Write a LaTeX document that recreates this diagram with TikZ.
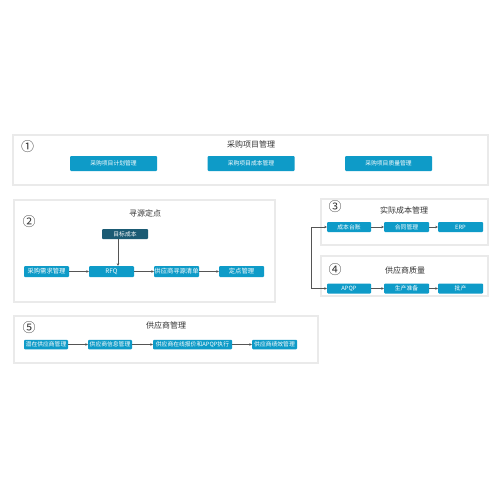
\documentclass[tikz,border=0pt]{standalone}
\usepackage{fontspec}
\setmainfont{Noto Sans CJK SC}
\newfontfamily\cjk{Noto Sans CJK SC}
\usetikzlibrary{arrows.meta}
\definecolor{boxblue}{HTML}{0E9BC8}
\definecolor{boxdark}{HTML}{1B5B74}
\definecolor{framegray}{HTML}{EAEAEA}
\definecolor{linegray}{HTML}{555555}
\begin{document}
\begin{tikzpicture}[x=1pt,y=-1pt,
  frame/.style={draw=framegray,line width=1.3pt,fill=white},
  bluebox/.style={fill=boxblue,draw=none,rounded corners=1pt,text=white,font=\cjk\fontsize{5.8}{6}\selectfont,inner sep=0pt,anchor=center},
  darkbox/.style={bluebox,fill=boxdark},
  ttl/.style={font=\cjk\fontsize{8}{9}\selectfont,text=black!80,inner sep=0pt},
  num/.style={font=\cjk\fontsize{13}{14}\selectfont,text=black!80,inner sep=0pt},
  conn/.style={draw=linegray,line width=0.5pt,-{Stealth[length=2.5pt,width=2.5pt]}},
  plain/.style={draw=linegray,line width=0.5pt}]
\useasboundingbox (0,0) rectangle (500,500);
% frames
\draw[frame] (13,135) rectangle (488,185);
\draw[frame] (14,200) rectangle (275,302);
\draw[frame] (321,199) rectangle (488,245);
\draw[frame] (321,256) rectangle (488,296);
\draw[frame] (14,316) rectangle (318,363);
% section 1
\node[num] (n1) at (27.5,147) {①};
\node[ttl] (t1) at (251,144) {采购项目管理};
\node[bluebox,minimum width=87pt,minimum height=15pt] (a1) at (113.5,163.5) {采购项目计划管理};
\node[bluebox,minimum width=87pt,minimum height=15pt] (a2) at (251,163.5) {采购项目成本管理};
\node[bluebox,minimum width=87pt,minimum height=15pt] (a3) at (388.5,163.5) {采购项目质量管理};
% section 2
\node[num] (n2) at (29,222) {②};
\node[ttl] (t2) at (145,213) {寻源定点};
\node[darkbox,minimum width=46pt,minimum height=10pt] (tc) at (125,234) {目标成本};
\node[bluebox,minimum width=45pt,minimum height=11pt,font=\cjk\fontsize{6.3}{7}\selectfont] (b1) at (46.5,271.5) {采购需求管理};
\node[bluebox,minimum width=45pt,minimum height=11pt,font=\cjk\fontsize{6.3}{7}\selectfont] (b2) at (111.5,271.5) {RFQ};
\node[bluebox,minimum width=45pt,minimum height=11pt,font=\cjk\fontsize{6.3}{7}\selectfont] (b3) at (176.5,271.5) {供应商寻源清单};
\node[bluebox,minimum width=45pt,minimum height=11pt,font=\cjk\fontsize{6.3}{7}\selectfont] (b4) at (241.5,271.5) {定点管理};
\coordinate (ax) at (118,250);
\draw[conn] (tc.south -| ax) -- (b2.north -| ax);
\draw[conn] (b1) -- (b2);
\draw[conn] (b2) -- (b3);
\draw[conn] (b3) -- (b4);
% section 3
\node[num] (n3) at (335,207) {③};
\node[ttl] (t3) at (404,210) {实际成本管理};
\node[bluebox,minimum width=44pt,minimum height=10pt] (c1) at (349,227) {成本台账};
\node[bluebox,minimum width=45pt,minimum height=10pt] (c2) at (406.5,227) {合同管理};
\node[bluebox,minimum width=45pt,minimum height=10pt] (c3) at (460.5,227) {ERP};
\draw[conn] (c1) -- (c2);
\draw[conn] (c2) -- (c3);
% section 4
\node[num] (n4) at (335,270) {④};
\node[ttl] (t4) at (405,270) {供应商质量};
\node[bluebox,minimum width=44pt,minimum height=10pt] (d1) at (349,288.5) {APQP};
\node[bluebox,minimum width=45pt,minimum height=10pt] (d2) at (406.5,288.5) {生产准备};
\node[bluebox,minimum width=45pt,minimum height=10pt] (d3) at (460.5,288.5) {批产};
\draw[conn] (d1) -- (d2);
\draw[conn] (d2) -- (d3);
% bracket
\coordinate (bx) at (311,258);
\draw[plain] (c1.west -| bx) -- (d1.west -| bx);
\draw[conn] (c1.west -| bx) -- (c1.west);
\draw[conn] (d1.west -| bx) -- (d1.west);
% section 5
\node[num] (n5) at (29,328) {⑤};
\node[ttl] (t5) at (166,325) {供应商管理};
\node[bluebox,minimum width=44pt,minimum height=9.5pt] (e1) at (46,344.5) {潜在供应商管理};
\node[bluebox,minimum width=44pt,minimum height=9.5pt] (e2) at (110,344.5) {供应商信息管理};
\node[bluebox,minimum width=79pt,minimum height=9.5pt] (e3) at (192.5,344.5) {供应商在线报价和APQP执行};
\node[bluebox,minimum width=45pt,minimum height=9.5pt] (e4) at (274.5,344.5) {供应商绩效管理};
\draw[conn] (e1) -- (e2);
\draw[conn] (e2) -- (e3);
\draw[conn] (e3) -- (e4);
\end{tikzpicture}
\end{document}
